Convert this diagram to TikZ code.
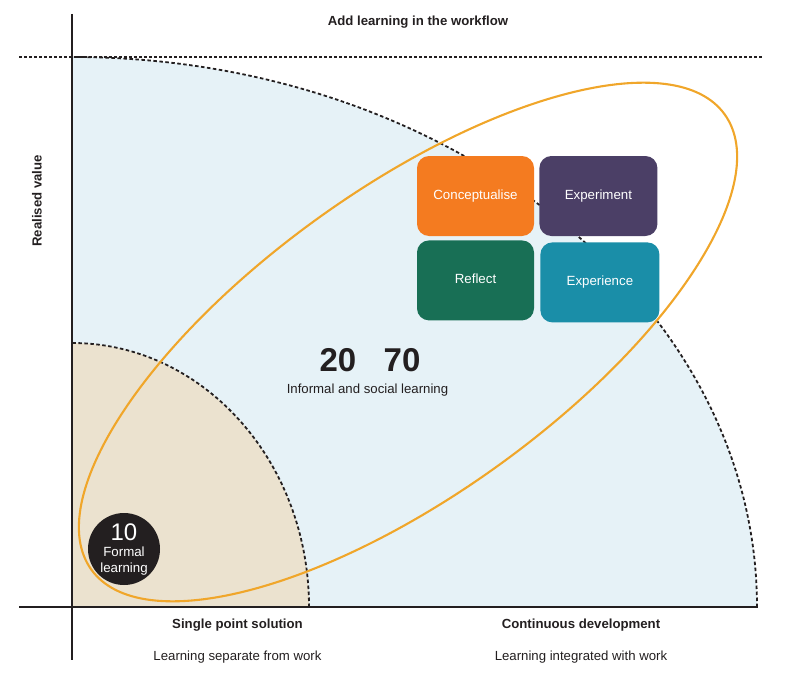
\documentclass[tikz,border=0pt]{standalone}
\usepackage{fontspec}
\setmainfont{Liberation Sans}
\usetikzlibrary{positioning}
\tikzset{
	stage/.style = {fill=#1, rounded corners=12pt, minimum width=117pt, minimum height=80pt, inner sep=0pt, text=white, text height=10pt, text depth=3pt, font=\fontsize{13.3}{15}\selectfont},
	axis/.style = {draw=xdark, line width=2.5pt},
	bound/.style = {draw=xdark, line width=1.8pt, dash pattern=on 3.5pt off 2.5pt},
	heading/.style = {anchor=base, text=xdark, font=\bfseries\fontsize{13.2}{15}\selectfont},
	caption/.style = {anchor=base, text=xdark, font=\fontsize{13.2}{15}\selectfont},
}
\definecolor{xdark}{HTML}{231F20}
\definecolor{xsky}{HTML}{E6F2F7}
\definecolor{xsand}{HTML}{EBE2CF}
\definecolor{xamber}{HTML}{F0A62A}
\definecolor{xorange}{HTML}{F47B20}
\definecolor{xplum}{HTML}{4B3F66}
\definecolor{xgreen}{HTML}{186F55}
\definecolor{xteal}{HTML}{1A8EA8}

\begin{document}
\begin{tikzpicture}[x=1pt, y=-1pt]
			\useasboundingbox (0,0) rectangle (800,677);
			\coordinate (o) at (72,607);
			% quarter regions
			\fill[xsky] (o) -- (757,607) arc[start angle=0, end angle=-90, x radius=685, y radius=550] -- cycle;
			\draw[bound] (757,607) arc[start angle=0, end angle=-90, x radius=685, y radius=550];
			\fill[xsand] (o) -- (309,607) arc[start angle=0, end angle=-90, x radius=237, y radius=264] -- cycle;
			\draw[bound] (309,607) arc[start angle=0, end angle=-90, x radius=237, y radius=264];
			\draw[bound, dash pattern=on 3pt off 2pt] (19,57) -- (762,57);
			% axes
			\draw[axis] (72,14) -- (72,660);
			\draw[axis] (19,607) -- (758,607);
			% workflow ellipse
			\draw[xamber, line width=2.1pt, rotate around={35.7:(408,342)}] (408,342) ellipse[x radius=390, y radius=153];
			% stages
			\node[stage=xorange] (concept) at (475.5,196) {Conceptualise};
			\node[stage=xplum, right=5pt of concept, minimum width=118pt] (experiment) {Experiment};
			\node[stage=xgreen, below=4pt of concept] (reflect) {Reflect};
			\node[stage=xteal, right=6pt of reflect, yshift=-2pt, minimum width=119pt] (experience) {Experience};
			% shares
			\node[anchor=base, text=xdark, font=\bfseries\fontsize{33}{33}\selectfont] (twenty) at (338,371.5) {20};
			\node[anchor=base, text=xdark, font=\bfseries\fontsize{33}{33}\selectfont] (seventy) at (402,371.5) {70};
			\node[caption] (informal) at (367.5,393) {Informal and social learning};
			\node[circle, fill=xdark, minimum size=72pt, inner sep=0pt] (formal) at (124,549) {};
			\node[anchor=base, text=white, font=\fontsize{24}{24}\selectfont] (ten) at (124,540) {10};
			\node[anchor=base, text=white, font=\fontsize{13.3}{15}\selectfont] (formaltop) at (124,556) {Formal};
			\node[anchor=base, text=white, font=\fontsize{13.3}{15}\selectfont] (formalbot) at (124,572) {learning};
			% axis texts
			\node[heading] (title) at (418,26) {Add learning in the workflow};
			\node[heading, anchor=center, rotate=90] (value) at (37,201) {Realised value};
			\node[heading] (single) at (237.5,628) {Single point solution};
			\node[heading] (continuous) at (581,628) {Continuous development};
			\node[caption] (separate) at (237.5,660) {Learning separate from work};
			\node[caption] (integrated) at (581,660) {Learning integrated with work};
\end{tikzpicture}
\end{document}
